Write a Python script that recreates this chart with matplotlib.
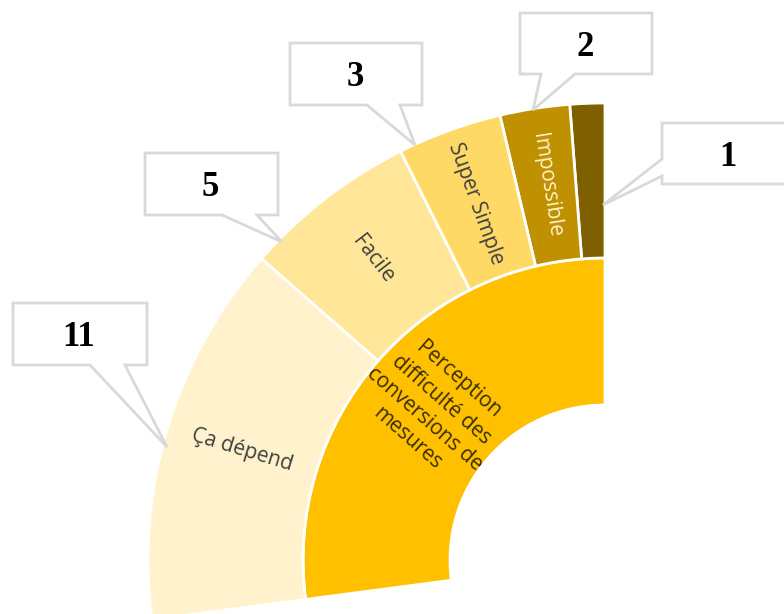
import numpy as np
import matplotlib.pyplot as plt
from matplotlib.patches import Wedge, Polygon

# outer ring, from the top going counter-clockwise
values = [1, 2, 3, 5, 11]
labels = ['', 'Impossible', 'Super Simple', 'Facile', 'Ça dépend']
colors = ['#7F6000', '#BF9000', '#FFD966', '#FFE699', '#FFF2CC']
text_colors = ['#FFF2CC', '#FFF2CC', '#404040', '#404040', '#404040']

# inner ring
inner_label = 'Perception\ndifficulté des\nconversions de\nmesures'
inner_color = '#FFC000'

# callout boxes (pixel positions): value index, box, pointer base, tip, text position
callouts = [
    (0, 662, 123, 800, 184, [(662, 176), (662, 159)], (603, 205), (728, 157)),
    (1, 520, 13, 652, 74, [(575, 74), (541, 74)], (533, 110), (585, 47)),
    (2, 290, 43, 422, 105, [(400, 105), (367, 105)], (415, 145), (355, 77)),
    (3, 145, 153, 278, 215, [(257, 215), (222, 215)], (282, 242), (210, 188)),
    (4, 13, 303, 147, 365, [(125, 365), (90, 365)], (167, 447), (79, 337)),
]

cx, cy = 605, 560
r_in, r_mid, r_out = 155, 302, 457
span = 97.5
total = sum(values)
k = span / total

fig = plt.figure(figsize=(7.84, 6.14), dpi=100)
ax = fig.add_axes([0, 0, 1, 1])
ax.set_xlim(0, 784)
ax.set_ylim(614, 0)
ax.set_aspect('equal')
ax.axis('off')


def polar(r, a):
    # a = degrees from the top, counter-clockwise on screen
    return cx - r * np.sin(np.radians(a)), cy - r * np.cos(np.radians(a))


# y axis is inverted, so "up" is 270 degrees and we go to smaller angles
ax.add_patch(Wedge((cx, cy), r_mid, 270 - total * k, 270, width=r_mid - r_in,
                   facecolor=inner_color, edgecolor='white', lw=2))
a = total / 2 * k
x, y = polar((r_in + r_mid) / 2, a)
ax.text(x, y, inner_label, rotation=a - 90, ha='center', va='center',
        rotation_mode='anchor', fontsize=15, family='Open Sans',
        color='#3A3000', linespacing=1.3, multialignment='center')

start = 0
for v, lab, col, tc in zip(values, labels, colors, text_colors):
    t1 = 270 - (start + v) * k
    t2 = 270 - start * k
    ax.add_patch(Wedge((cx, cy), r_out, t1, t2, width=r_out - r_mid,
                       facecolor=col, edgecolor='white', lw=2))
    a = (start + v / 2) * k
    if lab:
        x, y = polar((r_mid + r_out) / 2, a)
        ax.text(x, y, lab, rotation=a - 90, ha='center', va='center',
                rotation_mode='anchor', fontsize=15, family='Open Sans',
                color=tc)
    start += v

for i, x0, y0, x1, y1, base, tip, txy in callouts:
    if base[0][0] == x0 and base[1][0] == x0:
        pts = [(x0, y0), (x1, y0), (x1, y1), (x0, y1), base[0], tip, base[1]]
    else:
        pts = [(x0, y0), (x1, y0), (x1, y1), base[0], tip, base[1], (x0, y1)]
    ax.add_patch(Polygon(pts, closed=True, facecolor='white',
                         edgecolor='#D9D9D9', lw=2, joinstyle='miter'))
    ax.text(txy[0], txy[1], str(values[i]), ha='center', va='center',
            fontsize=25, fontweight='bold', family='Liberation Serif',
            color='black')

fig.savefig('out.png', dpi=100)
